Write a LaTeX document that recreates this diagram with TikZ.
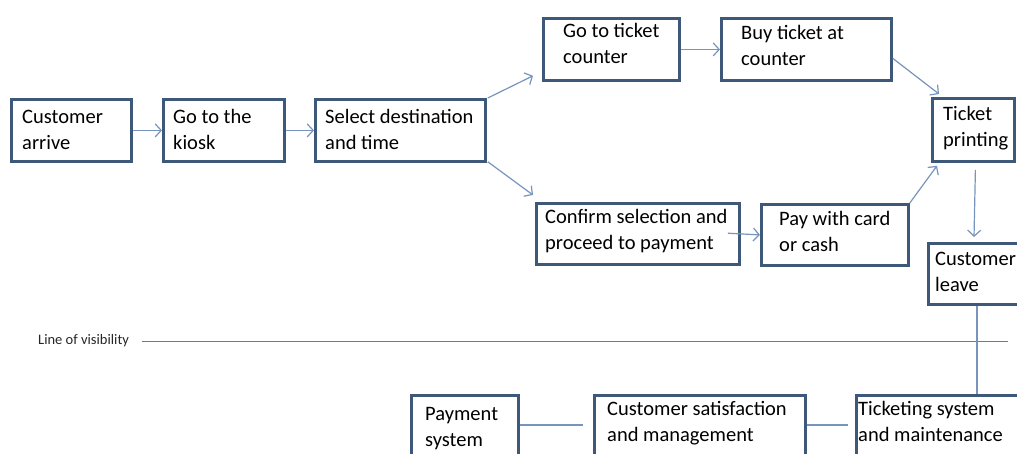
\documentclass[tikz,border=0pt]{standalone}
\usepackage{fontspec}
\setmainfont{Carlito}
\usetikzlibrary{arrows.meta,calc}
\definecolor{boxline}{RGB}{62,88,122}
\definecolor{arrowcol}{RGB}{118,148,188}
\definecolor{vislinecol}{RGB}{96,126,158}
\begin{document}
\begin{tikzpicture}[x=1pt,y=-1pt,
  box/.style={draw=boxline,line width=2.8pt,fill=white,anchor=north west,inner sep=0pt},
  txt/.style={anchor=north west,inner sep=0pt,align=left,font=\fontsize{20.5}{26}\selectfont,text=black},
  flow/.style={draw=arrowcol,line width=1.2pt,-{Straight Barb[length=6pt,width=13pt,line width=1.2pt]}},
  link/.style={draw=arrowcol,line width=1.1pt},
  visline/.style={draw=vislinecol,line width=1pt},
  vistxt/.style={anchor=west,inner sep=0pt,font=\fontsize{14.5}{16}\selectfont,text=black!85}]
\useasboundingbox (0,0) rectangle (1017,454);
\clip (0,0) rectangle (1017,454);
% boxes
\node[box,minimum width=120pt,minimum height=62pt] (ca) at (10,98) {};
\node[box,minimum width=121pt,minimum height=62pt] (gk) at (162,98) {};
\node[box,minimum width=170pt,minimum height=62pt] (sd) at (314,98) {};
\node[box,minimum width=136pt,minimum height=62pt] (gt) at (542,17) {};
\node[box,minimum width=170pt,minimum height=62pt] (bt) at (720,17) {};
\node[box,minimum width=82pt,minimum height=63pt] (tp) at (931,97) {};
\node[box,minimum width=203pt,minimum height=61pt] (cf) at (535,202) {};
\node[box,minimum width=147pt,minimum height=61pt] (pay) at (760,203) {};
\node[box,minimum width=110pt,minimum height=61pt] (cl) at (927,242) {};
\node[box,minimum width=107pt,minimum height=70pt] (ps) at (410,394) {};
\node[box,minimum width=211pt,minimum height=70pt] (cs) at (593,394) {};
\node[box,minimum width=200pt,minimum height=70pt] (ts) at (855,394) {};
% texts (first baseline = top + offset; strut height 18.2)
\node[txt] (ca-t) at ($(ca.north west)+(12,25-18.2)$) {\strut Customer\\arrive};
\node[txt] (gk-t) at ($(gk.north west)+(11,25-18.2)$) {\strut Go to the\\kiosk};
\node[txt] (sd-t) at ($(sd.north west)+(11,25-18.2)$) {\strut Select destination\\and time};
\node[txt] (gt-t) at ($(gt.north west)+(21,20-18.2)$) {\strut Go to ticket\\counter};
\node[txt] (bt-t) at ($(bt.north west)+(21,22-18.2)$) {\strut Buy ticket at\\counter};
\node[txt] (tp-t) at ($(tp.north west)+(12,23-18.2)$) {\strut Ticket\\printing};
\node[txt] (cf-t) at ($(cf.north west)+(10,21-18.2)$) {\strut Confirm selection and\\proceed to payment};
\node[txt] (pay-t) at ($(pay.north west)+(19,22-18.2)$) {\strut Pay with card\\or cash};
\node[txt] (cl-t) at ($(cl.north west)+(8,23-18.2)$) {\strut Customer\\leave};
\node[txt] (ps-t) at ($(ps.north west)+(15,26-18.2)$) {\strut Payment\\system};
\node[txt] (cs-t) at ($(cs.north west)+(14,21-18.2)$) {\strut Customer satisfaction\\and management};
\node[txt] (ts-t) at ($(ts.north west)+(3,21-18.2)$) {\strut Ticketing system\\and maintenance};
% line of visibility
\node[vistxt] (lov) at (38,341) {Line of visibility};
\coordinate (lovend) at (1008,341);
\draw[visline] ($(lov.east)+(13,0)$) -- (lovend);
% flow arrows
\draw[flow] (ca.east) -- (gk.west);
\draw[flow] (gk.east) -- (sd.west);
\draw[flow] ($(sd.north east)+(1,0)$) -- ($(gt.south west)+(-9,-6)$);
\draw[flow] ($(sd.south east)+(1,-1)$) -- ($(cf.north west)+(-2,-7)$);
\draw[flow] (gt.east) -- (bt.west);
\draw[flow] ($(bt.east)+(0,9)$) -- ($(tp.north west)+(8,-3)$);
\draw[flow,shorten <=-13pt] (cf.east) -- (pay.west);
\draw[flow] (pay.north east) -- ($(tp.south west)+(6,3)$);
\draw[flow] ($(tp.south)+(2,7)$) -- ($(cl.north west)+(47,-5)$);
% support links
\draw[link] ($(cl.south west)+(50,0)$) -- ($(ts.north west)+(122,0)$);
\draw[link] ($(ps.north east)+(0,31)$) -- ($(cs.north west)+(-10,31)$);
\draw[link] ($(cs.north east)+(0,31)$) -- ($(ts.north west)+(-7,31)$);
\end{tikzpicture}
\end{document}
